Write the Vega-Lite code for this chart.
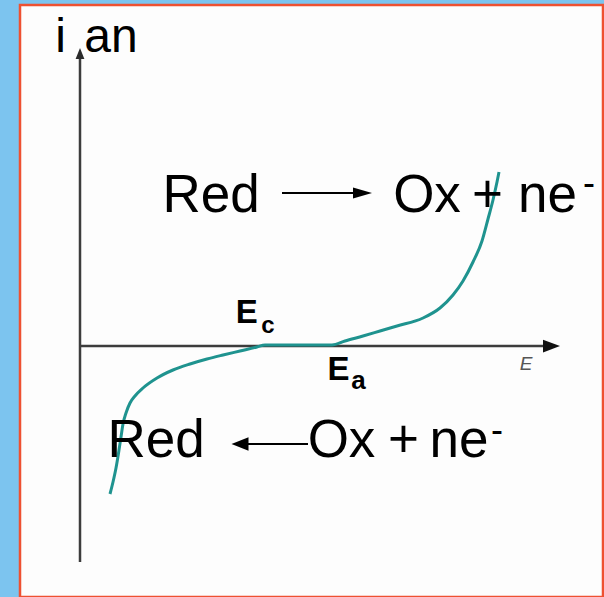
{
  "$schema": "https://vega.github.io/schema/vega-lite/v6.json",
  "width": 604,
  "height": 597,
  "autosize": {"type": "fit", "contains": "padding"},
  "padding": {"left": 20, "top": 5, "right": 1, "bottom": 0},
  "background": "#7cc4ef",
  "config": {
    "view": {"fill": "#fdfdfd", "stroke": "#ee5131", "strokeWidth": 2.5},
    "text": {"font": "Liberation Sans"}
  },
  "datasets": {
    "curve": [
      {"x": 3.0, "y": -14.8}, {"x": 3.3, "y": -13.6}, {"x": 3.6, "y": -12.2},
      {"x": 3.9, "y": -10.4}, {"x": 4.1, "y": -9.1}, {"x": 4.3, "y": -7.8},
      {"x": 4.6, "y": -6.7}, {"x": 5.0, "y": -5.7}, {"x": 5.5, "y": -5.0},
      {"x": 6.3, "y": -4.2}, {"x": 7.7, "y": -3.2}, {"x": 9.3, "y": -2.4},
      {"x": 11.0, "y": -1.8}, {"x": 12.7, "y": -1.3}, {"x": 14.3, "y": -0.9},
      {"x": 16.0, "y": -0.5}, {"x": 17.7, "y": -0.1}, {"x": 18.5, "y": 0.1},
      {"x": 22.0, "y": 0.1}, {"x": 25.2, "y": 0.1}, {"x": 26.5, "y": 0.5},
      {"x": 28.3, "y": 1.0}, {"x": 30.0, "y": 1.5}, {"x": 31.7, "y": 2.0},
      {"x": 34.3, "y": 2.8}, {"x": 36.0, "y": 3.8}, {"x": 37.3, "y": 5.1},
      {"x": 38.3, "y": 6.5}, {"x": 39.3, "y": 8.4}, {"x": 40.2, "y": 10.5},
      {"x": 40.8, "y": 12.7}, {"x": 41.3, "y": 14.6}, {"x": 41.7, "y": 16.4},
      {"x": 41.9, "y": 17.4}
    ],
    "axes": [
      {"x": 0, "x2": 0, "y": -21.6, "y2": 29.0},
      {"x": 0, "x2": 47.0, "y": 0, "y2": 0}
    ],
    "axisUp": [{"x": 0, "y": 29.25}],
    "axisRight": [{"x": 47.15, "y": 0}],
    "arrows": [
      {"x": 20.2, "x2": 28.0, "y": 15.3, "y2": 15.3},
      {"x": 16.5, "x2": 22.8, "y": -9.8, "y2": -9.8}
    ],
    "headRight": [{"x": 28.25, "y": 15.3}],
    "headLeft": [{"x": 16.0, "y": -9.8}],
    "equations": [
      {"x": 13.1, "y": 13.4, "t": "Red"},
      {"x": 34.7, "y": 13.4, "t": "Ox"},
      {"x": 40.75, "y": 13.4, "t": "+"},
      {"x": 46.75, "y": 13.4, "t": "ne"},
      {"x": 7.6, "y": -11.1, "t": "Red"},
      {"x": 26.15, "y": -11.1, "t": "Ox"},
      {"x": 32.35, "y": -11.1, "t": "+"},
      {"x": 37.9, "y": -11.1, "t": "ne"}
    ],
    "charges": [
      {"x": 50.9, "y": 15.1, "t": "-"},
      {"x": 41.7, "y": -9.55, "t": "-"}
    ],
    "yTitle": [
      {"x": -1.95, "y": 29.4, "t": "i"},
      {"x": 3.1, "y": 29.4, "t": "an"}
    ],
    "xTitle": [{"x": 44.6, "y": -2.4, "t": "E"}],
    "potentials": [
      {"x": 15.58, "y": 2.3, "t": "E"},
      {"x": 24.76, "y": -3.4, "t": "E"}
    ],
    "subC": [{"x": 18.8, "y": 1.3, "t": "c"}],
    "subA": [{"x": 27.85, "y": -4.3, "t": "a"}]
  },
  "encoding": {
    "x": {"field": "x", "type": "quantitative", "axis": null,
          "scale": {"domain": [-6, 52.3], "nice": false, "zero": false}},
    "y": {"field": "y", "type": "quantitative", "axis": null,
          "scale": {"domain": [-25.1, 34.1], "nice": false, "zero": false}}
  },
  "layer": [
    {
      "data": {"name": "axes"},
      "mark": {"type": "rule", "color": "#3c3c3c", "strokeWidth": 2.5},
      "encoding": {"x2": {"field": "x2"}, "y2": {"field": "y2"}}
    },
    {
      "data": {"name": "axisUp"},
      "mark": {"type": "point", "shape": "M0,-1L0.8,1L-0.8,1Z", "size": 121,
               "filled": true, "color": "#2a2a2a", "opacity": 1}
    },
    {
      "data": {"name": "axisRight"},
      "mark": {"type": "point", "shape": "M1,0L-1,-0.75L-1,0.75Z", "size": 289,
               "filled": true, "color": "#111111", "opacity": 1}
    },
    {
      "data": {"name": "curve"},
      "mark": {"type": "line", "color": "#1f938f", "strokeWidth": 3, "interpolate": "monotone"}
    },
    {
      "data": {"name": "arrows"},
      "mark": {"type": "rule", "color": "#000000", "strokeWidth": 2},
      "encoding": {"x2": {"field": "x2"}, "y2": {"field": "y2"}}
    },
    {
      "data": {"name": "headRight"},
      "mark": {"type": "point", "shape": "M1,0L-1,-0.58L-1,0.58Z", "size": 361,
               "filled": true, "color": "#000000", "opacity": 1}
    },
    {
      "data": {"name": "headLeft"},
      "mark": {"type": "point", "shape": "M-1,0L1,-0.8L1,0.8Z", "size": 289,
               "filled": true, "color": "#000000", "opacity": 1}
    },
    {
      "data": {"name": "equations"},
      "mark": {"type": "text", "fontSize": 53, "color": "#000000", "align": "center", "baseline": "alphabetic"},
      "encoding": {"text": {"field": "t"}}
    },
    {
      "data": {"name": "charges"},
      "mark": {"type": "text", "fontSize": 36, "color": "#000000", "align": "center", "baseline": "alphabetic"},
      "encoding": {"text": {"field": "t"}}
    },
    {
      "data": {"name": "yTitle"},
      "mark": {"type": "text", "fontSize": 48, "color": "#000000", "align": "center", "baseline": "alphabetic"},
      "encoding": {"text": {"field": "t"}}
    },
    {
      "data": {"name": "xTitle"},
      "mark": {"type": "text", "fontSize": 19, "fontStyle": "italic", "color": "#555555",
               "font": "Liberation Sans", "align": "center", "baseline": "alphabetic"},
      "encoding": {"text": {"field": "t"}}
    },
    {
      "data": {"name": "potentials"},
      "mark": {"type": "text", "fontSize": 33, "fontWeight": "bold", "color": "#000000", "align": "left", "baseline": "alphabetic"},
      "encoding": {"text": {"field": "t"}}
    },
    {
      "data": {"name": "subC"},
      "mark": {"type": "text", "fontSize": 24, "fontWeight": "bold", "color": "#000000", "align": "center", "baseline": "alphabetic"},
      "encoding": {"text": {"field": "t"}}
    },
    {
      "data": {"name": "subA"},
      "mark": {"type": "text", "fontSize": 26, "fontWeight": "bold", "color": "#000000", "align": "center", "baseline": "alphabetic"},
      "encoding": {"text": {"field": "t"}}
    }
  ]
}
